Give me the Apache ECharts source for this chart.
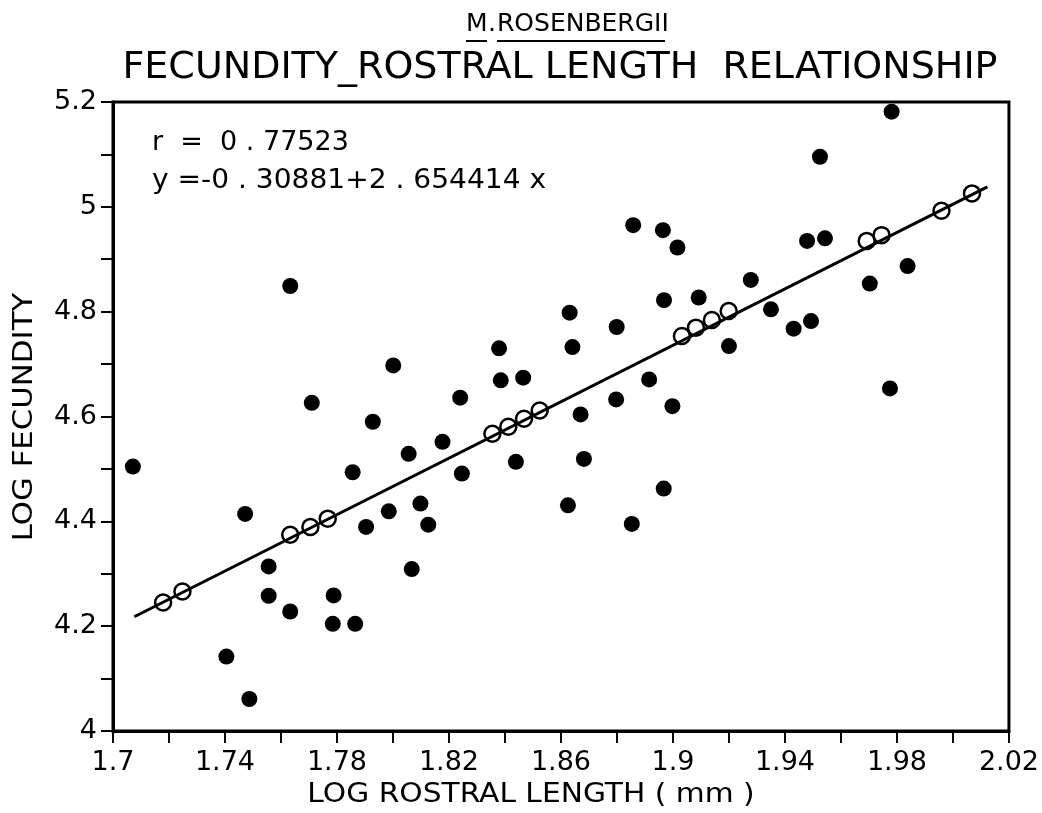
<!DOCTYPE html>
<html>
<head>
<meta charset="utf-8">
<script src="https://cdn.jsdelivr.net/npm/echarts@6/dist/echarts.min.js"></script>
<style>
html,body{margin:0;padding:0;background:#fff;}
#c{width:1042px;height:813px;}
</style>
</head>
<body>
<div id="c"></div>
<script>
// observed (filled) points: [log rostral length, log fecundity]
const observedX = [1.7071,1.7405,1.7472,1.7487,1.7556,1.7556,1.7633,1.7633,1.7710,1.7788,1.7785,1.7865,1.7856,1.7904,1.7928,1.7985,1.8001,1.8056,1.8067,1.8098,1.8126,1.8177,1.8240,1.8246,1.8379,1.8385,1.8439,1.8465,1.8625,1.8631,1.8641,1.8670,1.8682,1.8797,1.8799,1.8853,1.8858,1.8915,1.8964,1.8967,1.8968,1.8998,1.9016,1.9092,1.9200,1.9278,1.9350,1.9431,1.9479,1.9493,1.9525,1.9543,1.9703,1.9775,1.9781,1.9838];
const observedY = [4.5045,4.142,4.4141,4.061,4.314,4.258,4.849,4.228,4.626,4.2586,4.2045,4.2045,4.4936,4.3893,4.590,4.4191,4.6975,4.5288,4.309,4.4338,4.3937,4.5517,4.636,4.4911,4.730,4.669,4.5135,4.674,4.4306,4.798,4.7325,4.604,4.519,4.6325,4.7707,4.395,4.965,4.6708,4.9555,4.4625,4.822,4.6197,4.9224,4.827,4.7344,4.8605,4.8045,4.7676,4.935,4.782,5.0956,4.940,4.8536,4.6535,5.1816,4.887];
// predicted (open) points on the regression line
const predictedX = [1.7179,1.7248,1.7633,1.7705,1.7767,1.8355,1.8412,1.8468,1.8524,1.9032,1.9082,1.9139,1.9199,1.9692,1.9745,1.9959,2.0068];
const predictedY = [4.2452,4.2662,4.3745,4.3893,4.4051,4.567,4.5804,4.5956,4.6115,4.7535,4.7695,4.7841,4.8013,4.935,4.946,4.9924,5.0256];
// regression line end points
const lineX = [1.7076, 2.0123];
const lineY = [4.218, 5.038];

const subtitleM = 'M';
const subtitleDot = '.';
const subtitleName = 'ROSENBERGII';
const titleText = 'FECUNDITY_ROSTRAL LENGTH  RELATIONSHIP';
const rText = 'r  =  0 . 77523';
const eqText = 'y =-0 . 30881+2 . 654414 x';
const xName = 'LOG ROSTRAL LENGTH ( mm )';
const yName = 'LOG FECUNDITY';

const FONT = '"DejaVu Sans", sans-serif';
const zip = (a, b) => a.map((v, i) => [v, b[i]]);
const fmt = v => String(parseFloat(v.toFixed(2)));

const chart = echarts.init(document.getElementById('c'), null, {renderer: 'canvas'});
chart.setOption({
  animation: false,
  backgroundColor: '#fff',
  grid: {left: 113, right: 31, top: 102, bottom: 82, show: true, borderColor: '#000', borderWidth: 3, backgroundColor: 'transparent'},
  xAxis: {
    type: 'value', min: 1.7, max: 2.02, interval: 0.04,
    axisLine: {show: true, lineStyle: {color: '#000', width: 3}},
    axisTick: {show: true, inside: false, length: 12, lineStyle: {color: '#000', width: 2}},
    minorTick: {show: true, splitNumber: 2, length: 12, lineStyle: {color: '#000', width: 2}},
    splitLine: {show: false},
    axisLabel: {color: '#000', fontFamily: FONT, fontSize: 27, margin: 18, formatter: fmt}
  },
  yAxis: {
    type: 'value', min: 4, max: 5.2, interval: 0.2,
    axisLine: {show: true, lineStyle: {color: '#000', width: 3}},
    axisTick: {show: true, inside: false, length: 12, lineStyle: {color: '#000', width: 2}},
    minorTick: {show: true, splitNumber: 2, length: 12, lineStyle: {color: '#000', width: 2}},
    splitLine: {show: false},
    axisLabel: {color: '#000', fontFamily: FONT, fontSize: 27, margin: 16, formatter: fmt}
  },
  series: [
    {
      type: 'line', data: zip(lineX, lineY), symbol: 'none', silent: true,
      lineStyle: {color: '#000', width: 3}, z: 2
    },
    {
      type: 'scatter', data: zip(observedX, observedY), symbol: 'circle', symbolSize: 16,
      itemStyle: {color: '#000', opacity: 1}, z: 3
    },
    {
      type: 'scatter', data: zip(predictedX, predictedY), symbol: 'circle', symbolSize: 16,
      itemStyle: {color: 'transparent', borderColor: '#000', borderWidth: 2.5, opacity: 1}, z: 4
    }
  ],
  graphic: [
    {type: 'text', x: 466, y: 24, style: {text: subtitleM, fill: '#000', font: '25px ' + FONT, align: 'left', verticalAlign: 'middle'}},
    {type: 'text', x: 488, y: 24, style: {text: subtitleDot, fill: '#000', font: '25px ' + FONT, align: 'left', verticalAlign: 'middle'}},
    {type: 'text', x: 497, y: 24, style: {text: subtitleName, fill: '#000', font: '25px ' + FONT, align: 'left', verticalAlign: 'middle'}},
    {type: 'line', shape: {x1: 466, y1: 41, x2: 487, y2: 41}, style: {stroke: '#000', lineWidth: 2}},
    {type: 'line', shape: {x1: 497, y1: 41, x2: 665, y2: 41}, style: {stroke: '#000', lineWidth: 2}},
    {type: 'text', x: 560, y: 68, style: {text: titleText, fill: '#000', font: '38px ' + FONT, align: 'center', verticalAlign: 'middle'}},
    {type: 'text', x: 152, y: 143, style: {text: rText, fill: '#000', font: '27px ' + FONT, align: 'left', verticalAlign: 'middle'}},
    {type: 'text', x: 152, y: 181, scaleX: 1.04, style: {text: eqText, fill: '#000', font: '27px ' + FONT, align: 'left', verticalAlign: 'middle'}},
    {type: 'text', x: 531, y: 795, scaleX: 1.1, style: {text: xName, fill: '#000', font: '27px ' + FONT, align: 'center', verticalAlign: 'middle'}},
    {type: 'text', x: 25, y: 417, rotation: Math.PI / 2, scaleX: 1.14, style: {text: yName, fill: '#000', font: '27px ' + FONT, align: 'center', verticalAlign: 'middle'}}
  ]
});
</script>
</body>
</html>
